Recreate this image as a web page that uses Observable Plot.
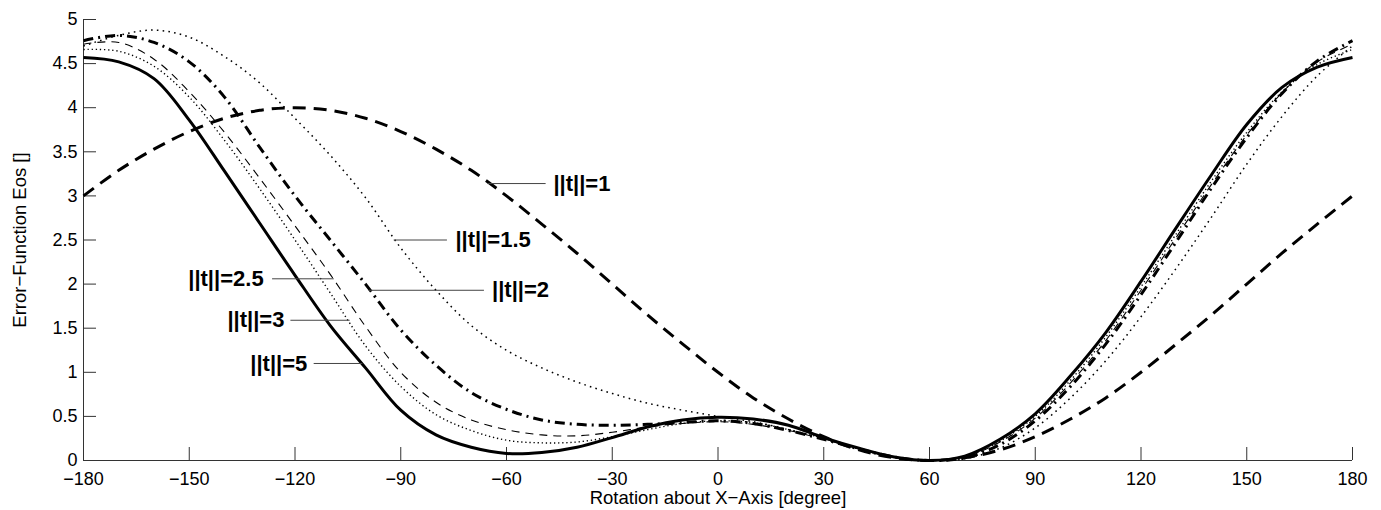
<!DOCTYPE html>
<html><head><meta charset="utf-8">
<script src="https://cdn.jsdelivr.net/npm/d3@7"></script>
<script src="https://cdn.jsdelivr.net/npm/@observablehq/plot@0.6"></script>
<style>html,body{margin:0;padding:0;background:#fff} svg{display:block}</style>
</head><body><div id="chart"></div>
<script>
// Rotation angles (degrees)
const angles = [-180,-170,-160,-150,-140,-130,-120,-110,-100,-90,-80,-70,-60,-50,-40,-30,-20,-10,0,10,20,30,40,50,60,70,80,90,100,110,120,130,140,150,160,170,180];

// Error-function values per translation norm
const eos_t1   = [3.00,3.29,3.53,3.73,3.88,3.97,4.00,3.97,3.88,3.73,3.53,3.29,3.00,2.68,2.35,2.00,1.65,1.32,1.00,0.71,0.47,0.27,0.12,0.03,0.00,0.03,0.12,0.27,0.47,0.71,1.00,1.32,1.65,2.00,2.35,2.68,3.00];
const eos_t1_5 = [4.70,4.82,4.88,4.80,4.58,4.28,3.88,3.46,2.98,2.41,1.93,1.53,1.25,1.05,0.89,0.76,0.65,0.57,0.50,0.44,0.35,0.25,0.13,0.04,0.00,0.02,0.14,0.37,0.71,1.13,1.63,2.18,2.76,3.36,3.90,4.36,4.70];
const eos_t2   = [4.76,4.82,4.74,4.52,4.12,3.55,3.00,2.50,2.00,1.48,1.08,0.77,0.58,0.46,0.41,0.40,0.41,0.43,0.45,0.42,0.34,0.24,0.13,0.04,0.00,0.03,0.18,0.45,0.84,1.32,1.88,2.48,3.09,3.66,4.16,4.53,4.76];
const eos_t2_5 = [4.72,4.74,4.55,4.18,3.72,3.20,2.66,2.11,1.52,1.00,0.66,0.46,0.35,0.29,0.28,0.32,0.38,0.42,0.44,0.41,0.34,0.24,0.13,0.04,0.00,0.04,0.21,0.48,0.88,1.36,1.93,2.53,3.13,3.69,4.17,4.52,4.72];
const eos_t3   = [4.66,4.64,4.47,4.12,3.63,3.08,2.50,1.90,1.30,0.84,0.52,0.34,0.23,0.20,0.21,0.27,0.35,0.42,0.45,0.43,0.35,0.25,0.13,0.04,0.00,0.04,0.22,0.50,0.91,1.40,1.97,2.57,3.17,3.72,4.18,4.49,4.66];
const eos_t5   = [4.57,4.52,4.33,3.86,3.28,2.69,2.10,1.53,1.05,0.57,0.29,0.15,0.08,0.09,0.15,0.26,0.38,0.46,0.49,0.47,0.40,0.26,0.14,0.04,0.00,0.05,0.24,0.53,0.96,1.45,2.03,2.64,3.24,3.81,4.23,4.46,4.57];

const seriesNames = ["||t||=1","||t||=1.5","||t||=2","||t||=2.5","||t||=3","||t||=5"];
const seriesValues = [eos_t1, eos_t1_5, eos_t2, eos_t2_5, eos_t3, eos_t5];

// Tick values
const xTicks = [-180,-150,-120,-90,-60,-30,0,30,60,90,120,150,180];
const yTicks = [0,0.5,1,1.5,2,2.5,3,3.5,4,4.5,5];

// Annotation labels (data coordinates)
const labelX  = [-46.7,-74.5,-64.1,-128.9,-123.0,-116.5];
const labelY  = [3.14,2.50,1.93,2.06,1.59,1.10];
const leaderX1 = [-65.4,-92.0,-99.1,-126.5,-121.3,-114.7];
const leaderX2 = [-48.9,-76.9,-66.4,-109.0,-104.5,-100.9];

// Styles
const styles = {
  "||t||=1":   {strokeWidth: 3,   strokeDasharray: "13,8"},
  "||t||=1.5": {strokeWidth: 1.5, strokeDasharray: "1.6,4.2"},
  "||t||=2":   {strokeWidth: 3,   strokeDasharray: "10,5,2,5"},
  "||t||=2.5": {strokeWidth: 1.1, strokeDasharray: "8,6"},
  "||t||=3":   {strokeWidth: 1.4, strokeDasharray: "1.3,2.8"},
  "||t||=5":   {strokeWidth: 3,   strokeDasharray: null}
};

const rows = [];
seriesNames.forEach((name, k) => {
  angles.forEach((a, i) => rows.push({series: name, angle: a, value: seriesValues[k][i]}));
});

const labels = seriesNames.map((name, k) => ({
  text: name, x: labelX[k], y: labelY[k], x1: leaderX1[k], x2: leaderX2[k],
  anchor: k < 3 ? "start" : "end"
}));

const font = "'Liberation Sans', Arial, Helvetica, sans-serif";

const lineMarks = seriesNames.map(name => Plot.line(rows.filter(r => r.series === name), {
  x: "angle", y: "value", curve: "catmull-rom", stroke: "black",
  strokeLinecap: "butt", strokeLinejoin: "round", ...styles[name]
}));

const chart = Plot.plot({
  width: 1381,
  height: 510,
  marginLeft: 83,
  marginRight: 29,
  marginTop: 19,
  marginBottom: 50,
  style: {fontFamily: font, fontSize: "18px", color: "black", background: "white"},
  x: {domain: [-180, 180]},
  y: {domain: [0, 5]},
  marks: [
    Plot.ruleY([0], {stroke: "#333", strokeWidth: 1}),
    Plot.ruleX([-180], {stroke: "#333", strokeWidth: 1}),
    Plot.axisX(xTicks, {anchor: "bottom", tickSize: -13, tickPadding: 25, stroke: "#333",
      tickFormat: d3.format("d"), fontSize: 18, fill: "black", label: null}),
    Plot.axisY(yTicks, {anchor: "left", tickSize: -13, tickPadding: 19, stroke: "#333",
      tickFormat: d3.format("~g"), fontSize: 18, fill: "black", label: null}),
    ...lineMarks,
    Plot.link(labels, {x1: "x1", x2: "x2", y1: "y", y2: "y", stroke: "#444", strokeWidth: 1}),
    Plot.text(labels.filter(d => d.anchor === "start"), {x: "x", y: "y", text: "text", textAnchor: "start",
      fontSize: 22, fontWeight: "bold", fill: "black"}),
    Plot.text(labels.filter(d => d.anchor === "end"), {x: "x", y: "y", text: "text", textAnchor: "end",
      fontSize: 22, fontWeight: "bold", fill: "black"}),
    Plot.text(["Rotation about X\u2212Axis [degree]"], {frameAnchor: "bottom", dy: 38, lineAnchor: "middle",
      textAnchor: "middle", fontSize: 18.5, fill: "black"}),
    Plot.text(["Error\u2212Function Eos []"], {frameAnchor: "left", dx: -63, rotate: -90, lineAnchor: "middle",
      textAnchor: "middle", fontSize: 18.5, fill: "black"})
  ]
});
document.getElementById("chart").appendChild(chart);
</script>
</body></html>
